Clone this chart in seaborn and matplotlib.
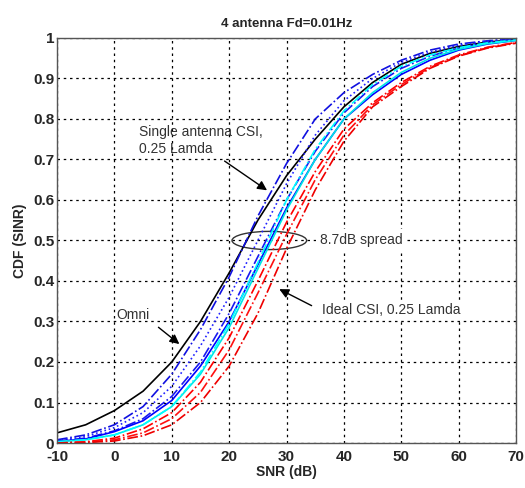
import numpy as np
import pandas as pd
import seaborn as sns
import matplotlib.pyplot as plt
from matplotlib.patches import Ellipse

sns.set_style("white")
plt.rcParams['font.family'] = ['Liberation Sans', 'DejaVu Sans']

# SNR sample points (dB)
snr = [-10, -5, 0, 5, 10, 15, 20, 25, 30, 35, 40, 45, 50, 55, 60, 65, 70]

# CDF values
omni     = [.025, .045, .08, .128, .20, .30, .42, .55, .66, .75, .83, .89, .935, .962, .979, .99, .996]
blue_a   = [.008, .02, .045, .09, .17, .28, .41, .56, .69, .80, .865, .91, .945, .97, .985, .993, .998]
blue_b   = [.006, .016, .038, .075, .14, .24, .36, .50, .64, .76, .845, .90, .94, .965, .982, .992, .997]
blue_c   = [.005, .012, .03, .06, .115, .20, .32, .46, .60, .72, .815, .88, .925, .955, .975, .988, .995]
blue_sol = [.004, .01, .028, .055, .105, .19, .30, .44, .58, .70, .80, .86, .91, .945, .97, .985, .994]
cyan_sol = [.003, .008, .02, .045, .09, .17, .285, .43, .575, .70, .80, .865, .915, .95, .972, .986, .994]
cyan_dd  = [.003, .008, .02, .045, .09, .175, .295, .445, .60, .725, .82, .885, .93, .958, .976, .988, .995]
red_1    = [.0, .003, .012, .035, .075, .15, .26, .40, .545, .67, .775, .84, .89, .93, .958, .977, .989]
red_2    = [.0, .002, .008, .025, .06, .125, .23, .37, .515, .65, .76, .835, .885, .927, .956, .976, .988]
red_3    = [.0, .001, .005, .018, .045, .10, .19, .32, .48, .625, .745, .83, .88, .925, .955, .975, .987]

curves = [
    (omni, 'black', '-'),
    (blue_a, '#1010e0', '-.'),
    (blue_b, '#2020ff', ':'),
    (blue_c, '#1818f0', '-.'),
    (blue_sol, '#0000ff', '-'),
    (cyan_sol, '#00e5e5', '-'),
    (cyan_dd, '#00ffff', '-.'),
    (red_1, '#ff0000', '-.'),
    (red_2, '#ff1010', '-.'),
    (red_3, '#ee0000', '-.'),
]

fig = plt.figure(figsize=(5.25, 4.88), dpi=100)
ax = fig.add_axes([0.1086, 0.0922, 0.8744, 0.8300])
ax.set_axisbelow(True)

for vals, col, ls in curves:
    sns.lineplot(x=snr, y=vals, color=col, linestyle=ls, linewidth=1.2, ax=ax)

ax.set_xlim(-10, 70)
ax.set_ylim(0, 1)
ax.set_xticks(range(-10, 71, 10))
ax.set_yticks(np.round(np.arange(0, 1.01, 0.1), 1))
ax.set_xticklabels([str(v) for v in range(-10, 71, 10)])
ax.set_yticklabels(['0', '0.1', '0.2', '0.3', '0.4', '0.5', '0.6', '0.7', '0.8', '0.9', '1'])
ax.grid(True, color='black', linestyle=(0, (2, 3)), linewidth=0.9)
ax.tick_params(direction='in', length=3, labelsize=11, pad=2)
ax.tick_params(axis='x', pad=5)
for lab in ax.get_xticklabels() + ax.get_yticklabels():
    lab.set_fontweight('bold')
for sp in ax.spines.values():
    sp.set_color('#555555')
    sp.set_linewidth(1.0)

ax.set_xlabel('SNR (dB)', fontsize=10, fontweight='bold', labelpad=1)
ax.set_ylabel('CDF (SINR)', fontsize=10, fontweight='bold', labelpad=4)
ax.set_title('4 antenna Fd=0.01Hz', fontsize=9.5, fontweight='bold', pad=8)

txtc = '#333333'
ax.text(4.3, 0.746, 'Single antenna CSI,\n0.25 Lamda', fontsize=10, color=txtc,
        va='center', ha='left', linespacing=1.25)
ax.annotate('', xy=(27.0, 0.62), xytext=(18.8, 0.70),
            arrowprops=dict(arrowstyle='-|>', color='black', lw=1.0, mutation_scale=14))

ax.add_patch(Ellipse((27.0, 0.5), 13.0, 0.045, fill=False, edgecolor='#333333', lw=1.0))
ax.text(35.8, 0.5, '8.7dB spread', fontsize=10, color=txtc, va='center', ha='left',
        bbox=dict(facecolor='white', edgecolor='none', pad=3))

ax.text(36.1, 0.328, 'Ideal CSI, 0.25 Lamda', fontsize=10, color=txtc, va='center', ha='left',
        bbox=dict(facecolor='white', edgecolor='none', pad=2))
ax.annotate('', xy=(28.3, 0.383), xytext=(34.8, 0.336),
            arrowprops=dict(arrowstyle='-|>', color='black', lw=1.0, mutation_scale=14))

ax.text(0.3, 0.315, 'Omni', fontsize=10, color=txtc, va='center', ha='left')
ax.annotate('', xy=(11.7, 0.24), xytext=(7.3, 0.29),
            arrowprops=dict(arrowstyle='-|>', color='black', lw=1.0, mutation_scale=14))

fig.savefig('out.png', dpi=100)
